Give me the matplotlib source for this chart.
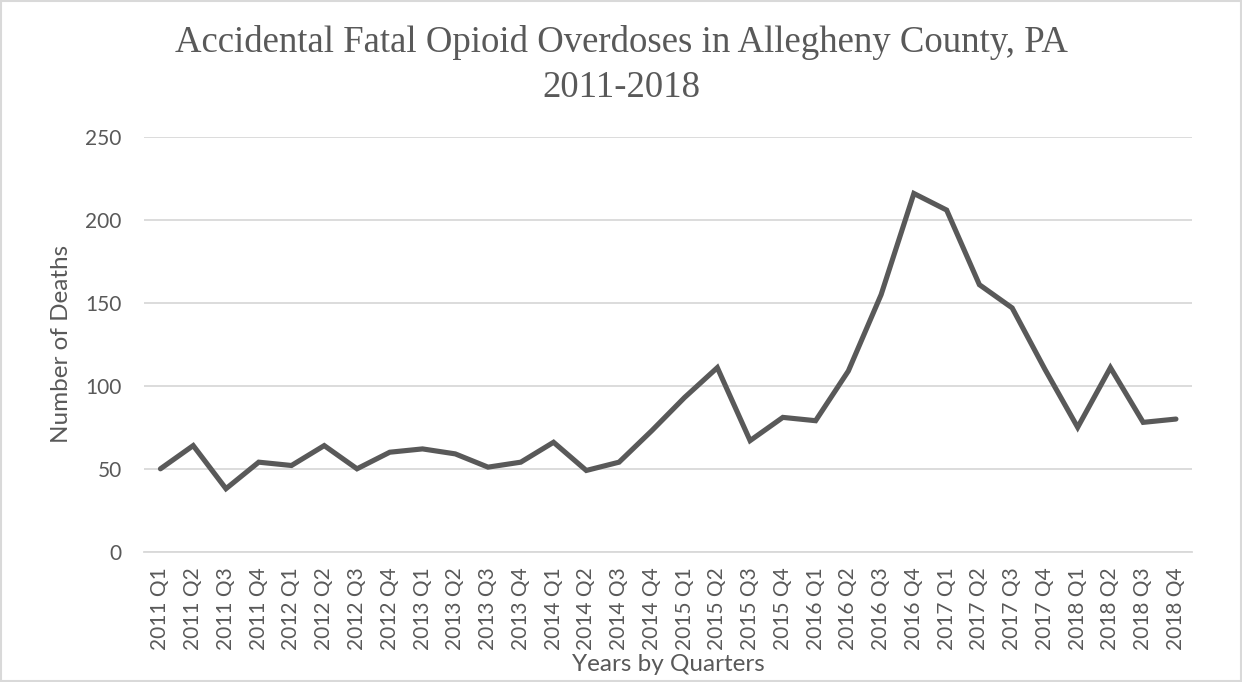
import matplotlib.pyplot as plt
import matplotlib.patches as mpatches

# Quarterly accidental fatal opioid overdoses, Allegheny County
quarters = [f"{y} Q{q}" for y in range(2011, 2019) for q in range(1, 5)]
deaths = [50, 64, 38, 54, 52, 64, 50, 60,
          62, 59, 51, 54, 66, 49, 54, 73,
          93, 111, 67, 81, 79, 109, 155, 216,
          206, 161, 147, 110, 75, 111, 78, 80]
y_ticks = [0, 50, 100, 150, 200, 250]

text_color = "#595959"
grid_color = "#d9d9d9"

fig = plt.figure(figsize=(12.42, 6.82), dpi=100)
ax = fig.add_axes([0.116, 0.191, 0.844, 0.608])

x = range(len(quarters))
ax.plot(x, deaths, color="#595959", linewidth=3.7, solid_joinstyle="miter",
        solid_capstyle="round")

ax.set_xlim(-0.5, len(quarters) - 0.5)
ax.set_ylim(0, 250)
ax.set_yticks(y_ticks)
ax.set_xticks(list(x))
ax.set_xticklabels(quarters, rotation=90)

ax.grid(axis="y", color=grid_color, linewidth=1.3)
ax.set_axisbelow(True)
for side in ["top", "left", "right"]:
    ax.spines[side].set_visible(False)
ax.spines["bottom"].set_color(grid_color)
ax.spines["bottom"].set_linewidth(1.3)
ax.tick_params(length=0, colors=text_color, labelsize=15)
ax.tick_params(axis="x", pad=11)
ax.tick_params(axis="y", pad=16)
for lbl in ax.get_xticklabels() + ax.get_yticklabels():
    lbl.set_family("Lato")

ax.set_xlabel("Years by Quarters", color=text_color, fontsize=17.5,
              family="Lato", labelpad=3)
ax.set_ylabel("Number of Deaths", color=text_color, fontsize=17.5,
              family="Lato", labelpad=10)

fig.text(0.5, 0.937, "Accidental Fatal Opioid Overdoses in Allegheny County, PA",
         ha="center", va="center", fontsize=26.5, color=text_color,
         family="Liberation Serif")
fig.text(0.5, 0.872, "2011-2018", ha="center", va="center", fontsize=26.5,
         color=text_color, family="Liberation Serif")

# thin frame around the whole chart
fig.patches.append(mpatches.Rectangle((0.001, 0.001), 0.998, 0.997,
                                      transform=fig.transFigure, fill=False,
                                      edgecolor=grid_color, linewidth=1.5))

fig.savefig("out.png", dpi=100)
